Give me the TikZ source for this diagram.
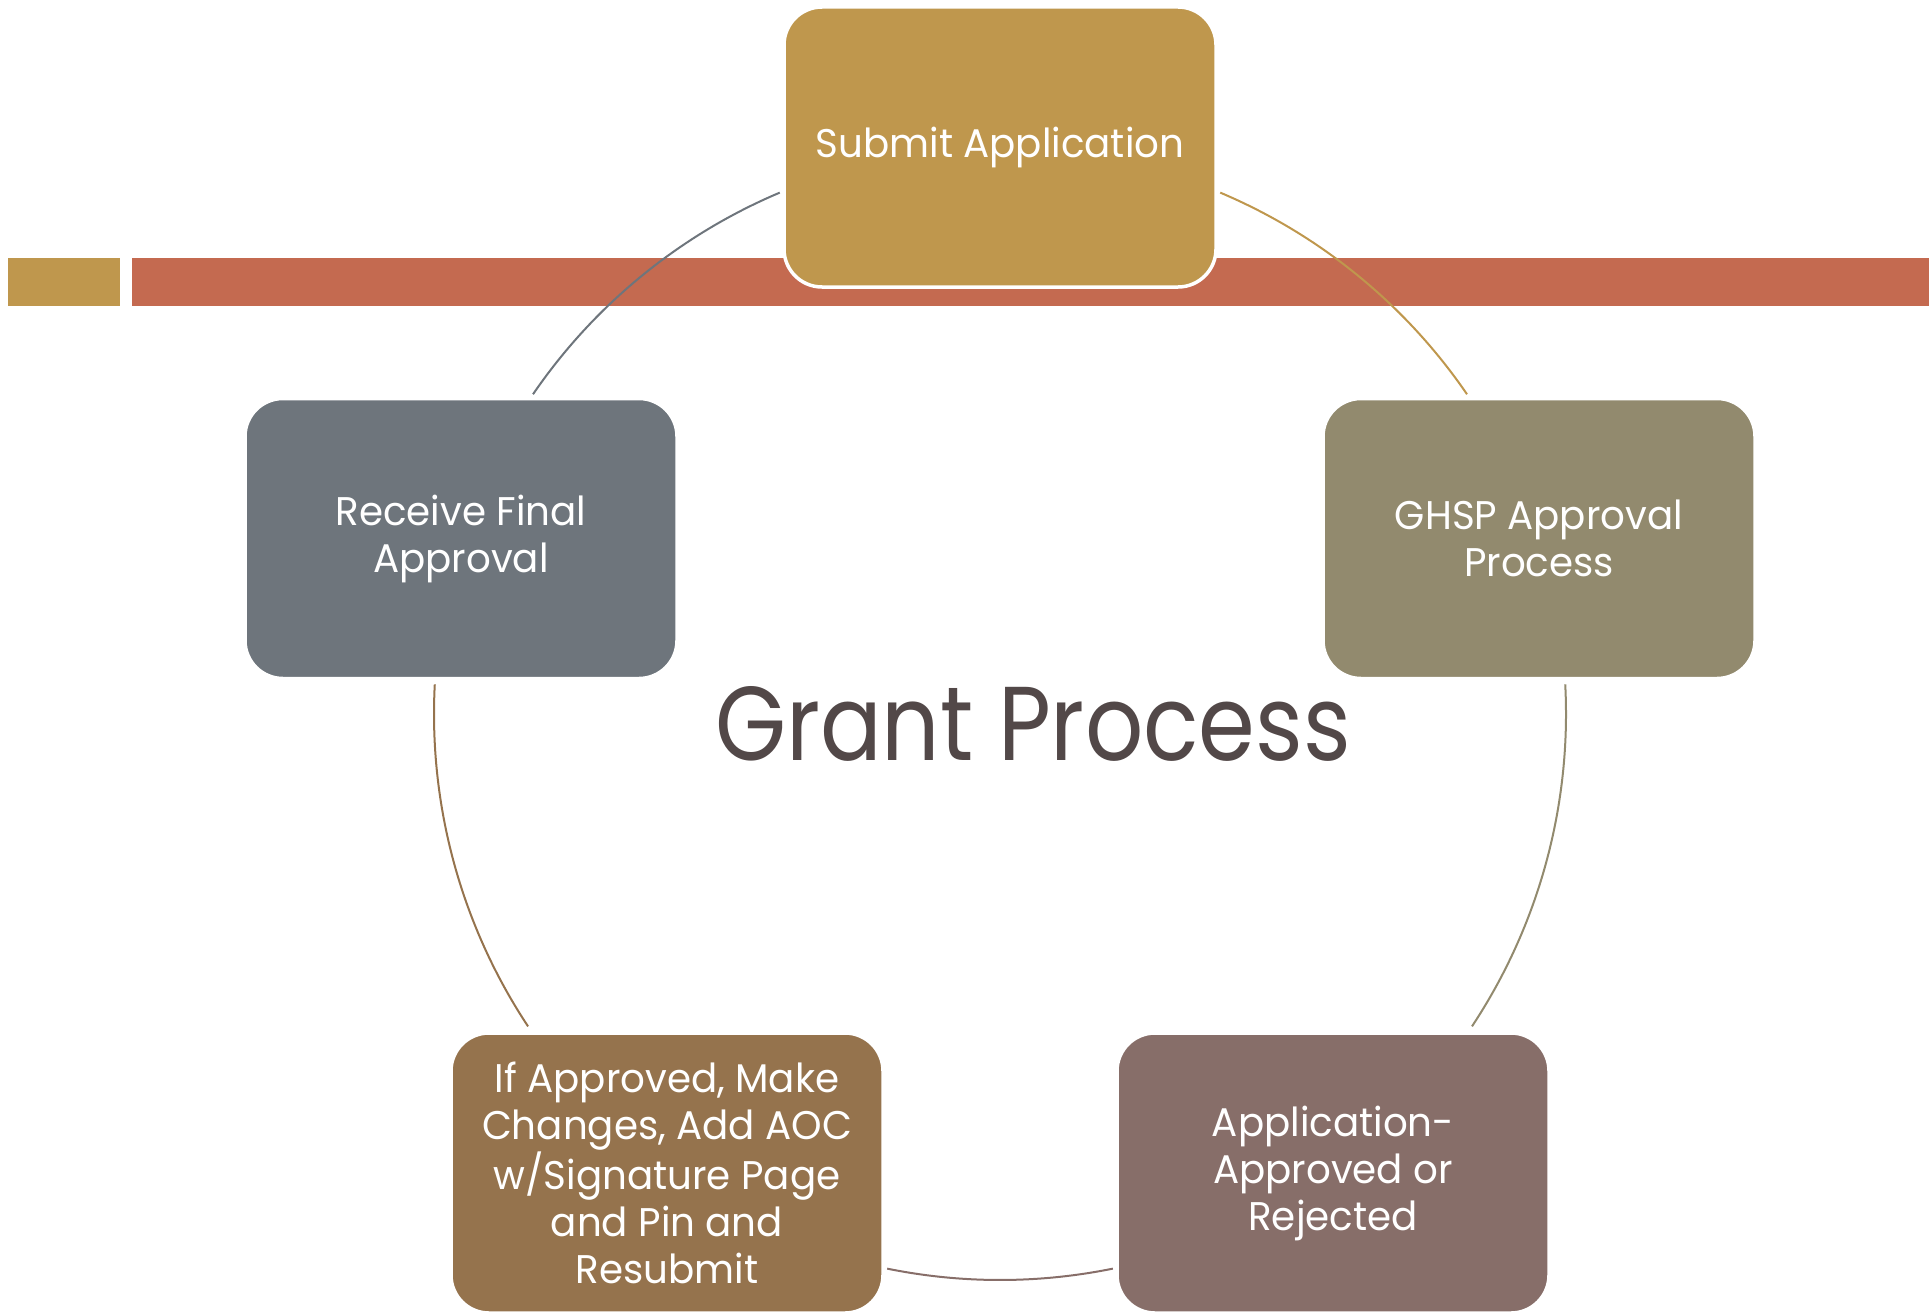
\documentclass[tikz,border=0pt]{standalone}
\usepackage{fontspec}
\setmainfont{Poppins}
\newfontfamily\titlefont{Poppins}[FakeStretch=0.87]
\newfontfamily\stagefont{Poppins}[FakeStretch=0.97]
\definecolor{gold}{HTML}{BF974D}
\definecolor{brick}{HTML}{C46A50}
\definecolor{olive}{HTML}{928A6E}
\definecolor{mauve}{HTML}{876E69}
\definecolor{umber}{HTML}{95734D}
\definecolor{slate}{HTML}{6E757C}
\definecolor{ink}{HTML}{524848}
\begin{document}
\begin{tikzpicture}[x=1pt,y=1pt,
  stage/.style={rounded corners=38pt, draw=white, line width=3.5pt,
    minimum width=432pt, minimum height=280pt, inner sep=0pt,
    text=white, align=center, font=\stagefont\fontsize{40}{47}\selectfont},
  link/.style={line width=2pt}]
\useasboundingbox (0,0) rectangle (1929,-1311);
\clip (0,0) rectangle (1929,-1311);

% header band
\fill[gold] (8,-258) rectangle (120,-306);
\fill[brick] (132,-258) rectangle (1929,-306);

% centre of the cycle and arc end points
\coordinate (hub) at (1000,-714);
\coordinate (a1) at ([shift={(145.6:566)}]hub);
\coordinate (b1) at ([shift={(67.1:566)}]hub);
\coordinate (c1) at ([shift={(3.0:566)}]hub);
\coordinate (d1) at ([shift={(-78.5:566)}]hub);
\coordinate (e1) at ([shift={(-146.5:566)}]hub);

% connecting arcs
\draw[link, slate] (a1) arc[start angle=145.6, end angle=112.9, radius=566];
\draw[link, gold]  (b1) arc[start angle=67.1, end angle=34.4, radius=566];
\draw[link, olive] (c1) arc[start angle=3.0, end angle=-33.5, radius=566];
\draw[link, mauve] (d1) arc[start angle=-78.5, end angle=-101.5, radius=566];
\draw[link, umber] (e1) arc[start angle=-146.5, end angle=-183.0, radius=566];

% stages
\node[stage, fill=gold]  (submit)  at (1000,-147)  {Submit Application};
\node[stage, fill=olive] (ghsp)    at (1539,-538.5) {GHSP Approval\\Process};
\node[stage, fill=mauve] (result)  at (1333,-1173) {Application-\\Approved or\\Rejected};
\node[stage, fill=umber] (resub)   at (667,-1173)  {If Approved, Make\\Changes, Add AOC\\w/Signature Page\\and Pin and\\Resubmit};
\node[stage, fill=slate] (final)   at (461,-538.5) {Receive Final\\Approval};

% title
\node[anchor=base, text=ink, inner sep=0pt, font=\titlefont\fontsize{105}{120}\selectfont] (title) at (1033,-760) {Grant Process};
\end{tikzpicture}
\end{document}
